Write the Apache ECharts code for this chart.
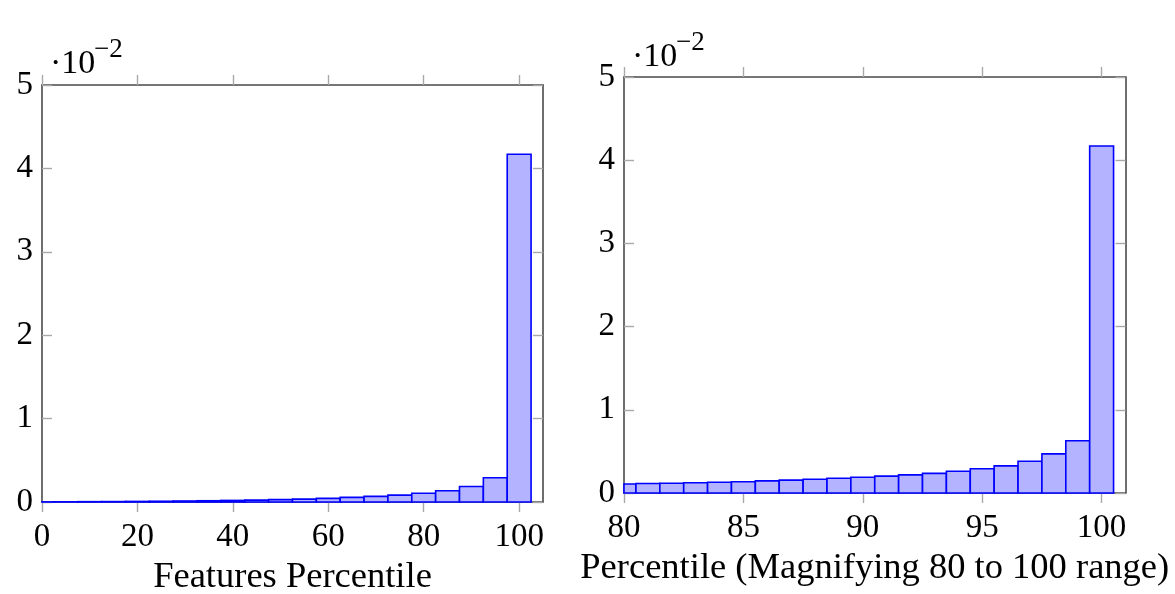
<!DOCTYPE html>
<html><head><meta charset="utf-8">
<script src="https://cdn.jsdelivr.net/npm/echarts@6/dist/echarts.min.js"></script>
<style>html,body{margin:0;padding:0;background:#fff}#c{width:1175px;height:594px}</style>
</head><body><div id="c"></div>
<script>
// Values are in units of 10^-2
const leftX = [0,5,10,15,20,25,30,35,40,45,50,55,60,65,70,75,80,85,90,95,100];
const leftY = [0.001,0.002,0.004,0.005,0.007,0.009,0.012,0.015,0.019,0.023,0.028,0.035,0.043,0.055,0.068,0.083,0.105,0.135,0.185,0.29,4.17];
const rightX = [80,81,82,83,84,85,86,87,88,89,90,91,92,93,94,95,96,97,98,99,100];
const rightY = [0.108,0.114,0.118,0.124,0.13,0.136,0.146,0.155,0.166,0.178,0.19,0.203,0.218,0.236,0.262,0.292,0.326,0.382,0.47,0.628,4.17];
const leftBin = 5;
const rightBin = 1;
const leftXTicks = [0,20,40,60,80,100];
const rightXTicks = [80,85,90,95,100];
const yTicks = [0,1,2,3,4,5];
const leftXName = 'Features Percentile';
const rightXName = 'Percentile (Magnifying 80 to 100 range)';
const scaleBase = '·10';
const scaleExp = '−2';

const FONT = '"Liberation Serif", "DejaVu Serif", serif';
const FRAME = '#4a4a4a';
const TICK = '#a8a8a8';

function makeRender(bin){
  return function(params, api){
    const x = api.value(0), y = api.value(1);
    const p0 = api.coord([x - bin/2, y]);
    const p1 = api.coord([x + bin/2, 0]);
    const cs = params.coordSys;
    const shape = echarts.graphic.clipRectByRect(
      {x: p0[0], y: p0[1], width: p1[0]-p0[0], height: p1[1]-p0[1]},
      {x: cs.x, y: cs.y, width: cs.width, height: cs.height});
    if(!shape) return;
    return {type:'rect', shape: shape,
      style:{fill:'#b3b3ff', stroke:'#0000ff', lineWidth:1.6}};
  };
}

function xAxes(gi, min, max, ticks, name){
  return [{
    gridIndex: gi, type:'value', position:'bottom', min:min, max:max,
    splitLine:{show:false},
    axisLine:{show:true, onZero:false, lineStyle:{color:FRAME, width:1.6}},
    axisTick:{show:true, inside:false, length:10, customValues:ticks, lineStyle:{color:TICK, width:1.4}},
    axisLabel:{show:true, customValues:ticks, margin:19, color:'#000', fontFamily:FONT, fontSize:33},
    name:name, nameLocation:'middle', nameGap:56,
    nameTextStyle:{color:'#000', fontFamily:FONT, fontSize:36.5}
  },{
    gridIndex: gi, type:'value', position:'top', min:min, max:max,
    splitLine:{show:false},
    axisLine:{show:true, onZero:false, lineStyle:{color:FRAME, width:1.6}},
    axisTick:{show:true, inside:false, length:10, customValues:ticks, lineStyle:{color:TICK, width:1.4}},
    axisLabel:{show:false}
  }];
}
function yAxes(gi){
  return [{
    gridIndex: gi, type:'value', position:'left', min:0, max:5,
    splitLine:{show:false},
    axisLine:{show:true, onZero:false, lineStyle:{color:FRAME, width:1.6}},
    axisTick:{show:true, inside:true, length:10, customValues:yTicks, lineStyle:{color:TICK, width:1.4}},
    axisLabel:{show:true, customValues:yTicks, margin:9, color:'#000', fontFamily:FONT, fontSize:33}
  },{
    gridIndex: gi, type:'value', position:'right', min:0, max:5,
    splitLine:{show:false},
    axisLine:{show:true, onZero:false, lineStyle:{color:FRAME, width:1.6}},
    axisTick:{show:true, inside:true, length:10, customValues:yTicks, lineStyle:{color:TICK, width:1.4}},
    axisLabel:{show:false}
  }];
}

function scaleLabel(x, y){
  return [
    {type:'text', style:{x:x, y:y, text:scaleBase, fontFamily:FONT, fontSize:34, fill:'#000', verticalAlign:'middle', align:'left'}},
    {type:'text', style:{x:x+44, y:y-14, text:scaleExp, fontFamily:FONT, fontSize:27, fill:'#000', verticalAlign:'middle', align:'left'}}
  ];
}

const chart = echarts.init(document.getElementById('c'), null, {renderer:'canvas'});
chart.setOption({
  animation:false,
  backgroundColor:'#fff',
  grid:[
    {left:42, top:85, width:501, height:417, containLabel:false, outerBoundsMode:'none'},
    {left:624, top:77, width:501.5, height:416, containLabel:false, outerBoundsMode:'none'}
  ],
  xAxis:[].concat(xAxes(0, 0, 105, leftXTicks, leftXName), xAxes(1, 80, 101, rightXTicks, rightXName)),
  yAxis:[].concat(yAxes(0), yAxes(1)),
  series:[
    {type:'custom', xAxisIndex:0, yAxisIndex:0, renderItem:makeRender(leftBin),
     encode:{x:0, y:1}, data: leftX.map((x,i)=>[x, leftY[i]])},
    {type:'custom', xAxisIndex:2, yAxisIndex:2, renderItem:makeRender(rightBin),
     encode:{x:0, y:1}, data: rightX.map((x,i)=>[x, rightY[i]])}
  ],
  graphic:[].concat(scaleLabel(50, 64), scaleLabel(632, 57))
});
</script></body></html>
